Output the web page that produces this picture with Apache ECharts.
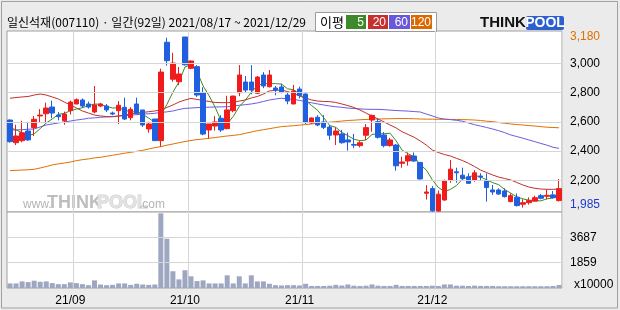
<!DOCTYPE html>
<html><head><meta charset="utf-8">
<script src="https://cdn.jsdelivr.net/npm/echarts@6/dist/echarts.min.js"></script>
<style>html,body{margin:0;padding:0;background:#ebebeb}#c{width:620px;height:310px}</style>
</head><body><div id="c"></div>
<script>
const dates = [
 '08/17','08/18','08/19','08/20','08/23','08/24','08/25','08/26','08/27','08/30','08/31',
 '09/01','09/02','09/03','09/06','09/07','09/08','09/09','09/10','09/13','09/14','09/15','09/16','09/17','09/23','09/24','09/27','09/28','09/29','09/30',
 '10/01','10/05','10/06','10/07','10/08','10/12','10/13','10/14','10/15','10/18','10/19','10/20','10/21','10/22','10/25','10/26','10/27','10/28','10/29',
 '11/01','11/02','11/03','11/04','11/05','11/08','11/09','11/10','11/11','11/12','11/15','11/16','11/17','11/18','11/19','11/22','11/23','11/24','11/25','11/26','11/29','11/30',
 '12/01','12/02','12/03','12/06','12/07','12/08','12/09','12/10','12/13','12/14','12/15','12/16','12/17','12/20','12/21','12/22','12/23','12/24','12/27','12/28','12/29'];
const opens = [2612,2457,2471,2537,2560,2640,2655,2701,2646,2607,
 2676,2722,2749,2722,2667,2708,2708,2660,2676,2699,
 2628,2722,2681,2551,2619,2471,3144,2891,2874,3180,
 2966,2977,2799,2544,2571,2624,2553,2676,2799,2872,
 2872,2795,2920,2840,2831,2838,2783,2722,2824,2790,
 2592,2631,2599,2564,2510,2517,2476,2445,2437,2508,
 2612,2601,2510,2437,2441,2316,2332,2366,2322,2111,
 2143,1990,2065,2202,2258,2235,2224,2202,2229,2195,
 2134,2134,2127,2054,2084,2036,2047,2057,2095,2090,
 2100,2061];
const closes = [2464,2503,2525,2476,2617,2646,2694,2660,2635,2653,
 2735,2751,2708,2701,2715,2722,2681,2653,2713,2619,
 2685,2658,2578,2585,2471,2940,3018,3002,2927,2990,
 3016,2783,2516,2585,2599,2544,2681,2776,2920,2817,
 2817,2906,2845,2920,2817,2804,2742,2811,2781,2594,
 2626,2578,2562,2508,2537,2457,2462,2440,2457,2560,
 2644,2494,2437,2476,2299,2325,2368,2332,2209,2120,
 1991,2105,2195,2276,2251,2213,2179,2251,2222,2150,
 2120,2106,2088,2095,2027,2047,2061,2081,2077,2097,
 2081,2143];
const highs = [2617,2580,2607,2599,2640,2687,2731,2744,2667,2670,
 2745,2760,2760,2738,2845,2730,2722,2670,2742,2765,
 2700,2765,2681,2600,2619,2963,3175,3072,2975,3180,
 3020,2988,2836,2585,2640,2645,2778,2778,2988,2913,
 2988,2913,2940,2954,2845,2860,2806,2852,2840,2795,
 2630,2645,2646,2578,2562,2545,2526,2517,2468,2585,
 2649,2620,2530,2490,2448,2361,2390,2390,2325,2166,
 2161,2130,2205,2339,2286,2286,2248,2270,2248,2247,
 2168,2145,2145,2110,2110,2070,2083,2095,2106,2136,
 2127,2209];
const lows = [2457,2441,2460,2470,2503,2594,2594,2624,2610,2580,
 2650,2720,2695,2690,2658,2700,2667,2645,2585,2612,
 2610,2650,2565,2525,2471,2430,2984,2874,2850,2985,
 2960,2770,2508,2485,2539,2530,2550,2665,2775,2800,
 2788,2790,2830,2835,2781,2795,2720,2720,2760,2585,
 2585,2570,2550,2476,2441,2450,2403,2419,2425,2476,
 2532,2485,2425,2430,2266,2286,2300,2325,2205,2068,
 1985,1985,2060,2183,2183,2200,2175,2190,2200,2054,
 2100,2100,2082,2050,2020,2013,2033,2055,2070,2070,
 2075,2055];
const ma5 = [2560,2545,2525,2505,2517,2553,2592,2619,2650,2658,
 2675,2687,2696,2710,2722,2719,2705,2694,2697,2678,
 2670,2666,2651,2625,2595,2646,2718,2803,2872,2975,
 2991,2944,2846,2778,2700,2605,2585,2637,2704,2748,
 2802,2847,2861,2861,2861,2858,2826,2819,2791,2746,
 2711,2678,2628,2574,2562,2528,2505,2481,2471,2475,
 2513,2519,2518,2522,2470,2406,2381,2360,2307,2271,
 2204,2151,2124,2137,2164,2208,2223,2234,2223,2203,
 2184,2170,2137,2112,2087,2073,2064,2062,2059,2073,
 2079,2096];
const ma20 = [2761,2766,2770,2773,2783,2790,2783,2770,2756,2735,
 2715,2694,2674,2660,2646,2640,2636,2635,2640,2646,
 2653,2660,2664,2669,2674,2681,2698,2715,2735,2749,
 2760,2753,2745,2739,2732,2731,2731,2732,2742,2749,
 2763,2773,2790,2811,2815,2817,2807,2793,2776,2763,
 2749,2742,2739,2738,2732,2722,2711,2698,2681,2660,
 2640,2619,2599,2578,2558,2532,2513,2494,2469,2441,
 2407,2390,2376,2366,2350,2335,2316,2294,2270,2253,
 2236,2222,2212,2202,2185,2168,2154,2145,2140,2138,
 2138,2140];
const ma60 = [2544,2544,2546,2549,2551,2565,2578,2585,2592,2599,
 2605,2612,2617,2624,2627,2631,2633,2635,2639,2642,
 2645,2649,2652,2655,2658,2664,2668,2674,2684,2692,
 2694,2697,2699,2700,2701,2702,2703,2708,2713,2717,
 2722,2729,2739,2749,2756,2761,2757,2754,2746,2738,
 2730,2722,2715,2708,2703,2699,2694,2691,2688,2686,
 2685,2685,2683,2680,2677,2675,2673,2670,2667,2653,
 2640,2626,2619,2615,2610,2604,2592,2580,2571,2561,
 2551,2539,2526,2510,2499,2488,2476,2464,2452,2440,
 2426,2418];
const ma120 = [2266,2268,2270,2272,2275,2284,2294,2305,2312,2318,
 2325,2334,2341,2346,2353,2357,2364,2371,2378,2385,
 2391,2398,2405,2414,2423,2430,2440,2448,2457,2465,
 2472,2478,2482,2487,2492,2498,2503,2507,2512,2521,
 2530,2539,2546,2553,2560,2567,2570,2573,2577,2581,
 2585,2590,2594,2597,2601,2605,2609,2611,2614,2616,
 2618,2619,2620,2621,2622,2622,2622,2621,2619,2618,
 2618,2617,2617,2616,2616,2615,2614,2612,2609,2604,
 2601,2595,2590,2585,2581,2578,2574,2571,2567,2563,
 2561,2559];
const volumes = [334,334,482,430,534,456,482,356,282,282,
 408,356,282,208,556,256,208,230,334,334,
 230,308,256,230,256,5454,3600,1224,630,1298,
 853,505,556,334,334,334,927,334,853,334,
 927,482,482,308,208,185,208,208,185,308,
 150,150,150,170,230,180,260,170,150,170,
 260,170,150,150,230,150,150,150,150,150,
 170,150,260,260,170,170,150,170,150,150,
 150,130,130,130,130,130,130,130,130,130,
 150,220];
const priceTicks = [2200,2400,2600,2800,3000];
const priceTickLabels = ['2,200','2,400','2,600','2,800','3,000'];
const priceMaxLabel = '3,180', priceMax = 3180;
const priceMinLabel = '1,985', priceMin = 1985;
const volTicks = [1859,3687];
const volTickLabels = ['1859','3687'];
const volUnit = 'x10000';
const monthStartIdx = [11,30,49,71];
const xLabelIdx = [10,29,48,70];
const xLabels = ['21/09','21/10','21/11','21/12'];
const titleText = '일신석재(007110) · 일간(92일) 2021/08/17 ~ 2021/12/29';

const UP='#f01c1c', DOWN='#2060e0';
const C5='#3c8c1e', C20='#c0302a', C60='#6a5ce0', C120='#e07000';
const FONT='"Liberation Sans", Arial, sans-serif';
const CLEAR='rgba(0,0,0,0)';

const chart = echarts.init(document.getElementById('c'), null, {renderer:'canvas'});
const lbl = (t,color,extra)=>Object.assign({show:true,position:'end',distance:8,formatter:t,color:color||'#000',fontSize:12,fontFamily:FONT},extra||{});
const gridMarks = priceTicks.map((v,i)=>({yAxis:v,label:lbl(priceTickLabels[i])}));
gridMarks.push({yAxis:priceMax,lineStyle:{color:CLEAR},label:lbl(priceMaxLabel,C120)});
gridMarks.push({yAxis:priceMin,lineStyle:{color:CLEAR},label:lbl(priceMinLabel,'#1c3cd0',{offset:[0,-7]})});
const volMarks = volTicks.map((v,i)=>({yAxis:v,label:lbl(volTickLabels[i])}));
volMarks.push({yAxis:0,lineStyle:{color:CLEAR},label:lbl(volUnit,'#000',{distance:12,offset:[0,-3]})});

const mkLine=(name,data,color)=>({name,type:'line',data,xAxisIndex:0,yAxisIndex:0,symbol:'none',showSymbol:false,
  lineStyle:{width:1,color},itemStyle:{color},z:2,silent:true});

const option = {
  animation:false,
  backgroundColor:'#ebebeb',
  grid:[
    {left:7,right:58,top:31,height:181,show:true,backgroundColor:'#fff',borderColor:'#a0a0a0',borderWidth:1},
    {left:7,right:58,top:212,height:76,show:true,backgroundColor:'#fff',borderColor:'#a0a0a0',borderWidth:1}
  ],
  xAxis:[
    {type:'category',data:dates,gridIndex:0,boundaryGap:true,axisLine:{show:false},axisTick:{show:false},axisLabel:{show:false},
     splitLine:{show:true,interval:(i)=>monthStartIdx.includes(i),lineStyle:{color:'#d6d6d6',width:1}}},
    {type:'category',data:dates,gridIndex:1,boundaryGap:true,axisLine:{show:false},axisTick:{show:false},
     axisLabel:{show:true,interval:(i)=>xLabelIdx.includes(i),formatter:(v,i)=>xLabels[xLabelIdx.indexOf(i)]||'',color:'#000',fontSize:12,fontFamily:FONT,margin:7},
     splitLine:{show:true,interval:(i)=>monthStartIdx.includes(i),lineStyle:{color:'#d6d6d6',width:1}}}
  ],
  yAxis:[
    {type:'value',gridIndex:0,min:1983,max:3221,show:false,splitLine:{show:false}},
    {type:'value',gridIndex:1,min:0,max:5550,show:false,splitLine:{show:false}}
  ],
  series:[
    {name:'grid',type:'line',data:closes,xAxisIndex:0,yAxisIndex:0,symbol:'none',lineStyle:{color:CLEAR},z:1,silent:true,
     markLine:{silent:true,symbol:['none','none'],animation:false,lineStyle:{color:'#d6d6d6',type:'solid',width:1},data:gridMarks}},
    mkLine('MA120',ma120,C120),
    mkLine('MA60',ma60,C60),
    mkLine('MA20',ma20,C20),
    mkLine('MA5',ma5,C5),
    {name:'price',type:'candlestick',xAxisIndex:0,yAxisIndex:0,z:3,barWidth:5,
     data:opens.map((o,i)=>[o,closes[i],lows[i],highs[i]]),
     itemStyle:{color:UP,color0:DOWN,borderColor:UP,borderColor0:DOWN,borderWidth:1}},
    {name:'vol',type:'bar',xAxisIndex:1,yAxisIndex:1,data:volumes,barWidth:5,itemStyle:{color:'#9ea7c2'},z:3,
     markLine:{silent:true,symbol:['none','none'],animation:false,lineStyle:{color:'#d6d6d6',type:'solid',width:1},data:volMarks}}
  ],
  graphic:[
    {type:'rect',shape:{x:1.5,y:1.5,width:616,height:306.5},style:{fill:null,stroke:'#a0a0a0',lineWidth:1},z:100,silent:true},
    {type:'text',x:7,y:22,style:{text:titleText,font:'12px "Noto Sans CJK KR"',fill:'#000',textVerticalAlign:'middle'}},
    {type:'rect',shape:{x:315.5,y:12.5,width:121,height:19},style:{fill:'#fff',stroke:'#9a9a9a',lineWidth:1}},
    {type:'text',x:320,y:22,style:{text:'이평',font:'13px "Noto Sans CJK KR"',fill:'#000',textVerticalAlign:'middle'}},
    {type:'rect',shape:{x:346,y:15,width:20,height:14},style:{fill:'#3e8a2a'}},
    {type:'rect',shape:{x:368,y:15,width:20,height:14},style:{fill:'#c83030'}},
    {type:'rect',shape:{x:389,y:15,width:21,height:14},style:{fill:'#6a58dc'}},
    {type:'rect',shape:{x:411,y:15,width:21,height:14},style:{fill:'#dc6800'}},
    {type:'text',x:364,y:22.5,style:{text:'5',font:'12px '+FONT,fill:'#fff',textAlign:'right',textVerticalAlign:'middle'}},
    {type:'text',x:386,y:22.5,style:{text:'20',font:'12px '+FONT,fill:'#fff',textAlign:'right',textVerticalAlign:'middle'}},
    {type:'text',x:408,y:22.5,style:{text:'60',font:'12px '+FONT,fill:'#fff',textAlign:'right',textVerticalAlign:'middle'}},
    {type:'text',x:431,y:22.5,style:{text:'120',font:'12px '+FONT,fill:'#fff',textAlign:'right',textVerticalAlign:'middle'}},
    {type:'text',x:480,y:23,style:{text:'THINK',font:'bold 15px "Liberation Sans"',fill:'#111',textVerticalAlign:'middle'}},
    {type:'rect',shape:{x:526,y:16,width:38,height:14,r:2},style:{fill:'#2c5fd0'}},
    {type:'text',x:545,y:23.5,style:{text:'POOL',font:'bold 14px "Liberation Sans"',fill:'#fff',textAlign:'center',textVerticalAlign:'middle'}},
    {type:'text',x:23,y:205,style:{text:'www.',font:'12px "Liberation Sans"',fill:'#b4b4b4',textVerticalAlign:'middle'},silent:true},
    {type:'text',x:47,y:203,style:{text:'THINK',font:'bold 18px "Liberation Sans"',fill:'#bdbdbd',textVerticalAlign:'middle'},silent:true},
    {type:'text',x:97,y:203,style:{text:'POOL',font:'bold 18px "Liberation Sans"',fill:'#e2e2e2',stroke:'#cfcfcf',lineWidth:1,textVerticalAlign:'middle'},silent:true},
    {type:'text',x:139,y:205,style:{text:'.com',font:'12px "Liberation Sans"',fill:'#b4b4b4',textVerticalAlign:'middle'},silent:true}
  ]
};
chart.setOption(option);
</script></body></html>
